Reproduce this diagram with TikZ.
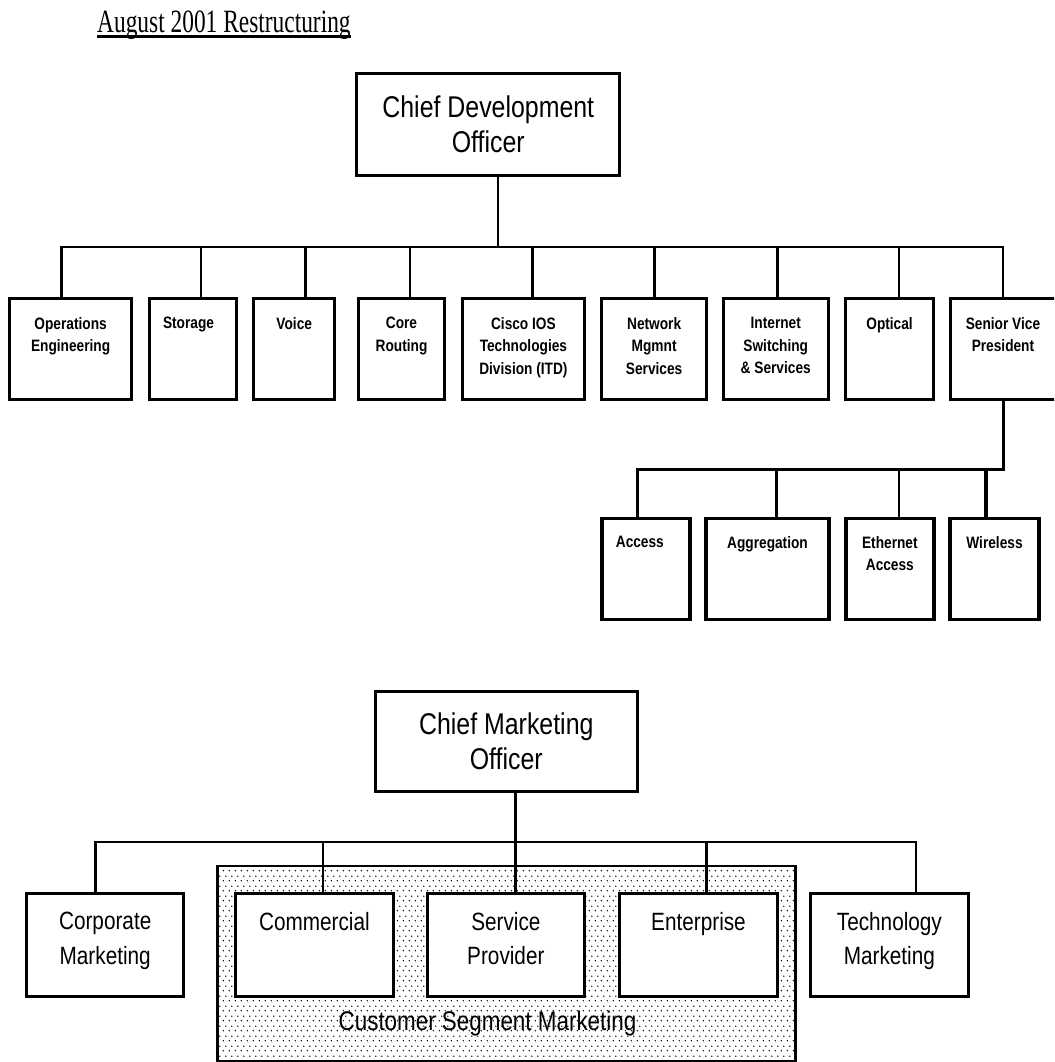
\documentclass[tikz,border=0pt]{standalone}
\usepackage{fontspec}
\setmainfont{Liberation Sans}
\newfontfamily\arialn[FakeStretch=0.83]{Liberation Sans}
\newfontfamily\timesn[FakeStretch=0.72]{Liberation Serif}
\usetikzlibrary{patterns.meta}
\tikzdeclarepattern{
  name=stipple,
  type=uncolored,
  bottom left={(0pt,0pt)},
  top right={(6pt,10pt)},
  tile size={(6pt,10pt)},
  code={
    \fill (1.5pt,2.5pt) circle (0.85pt);
    \fill (4.5pt,7.5pt) circle (0.85pt);
  }
}
\newcommand\obox[6]{%
  \node[box,#6,minimum width={#4-#2},minimum height={#5-#3}] (#1) at ({(#2+#4)/2},{(#3+#5)/2}) {};}
\newcommand\otext[5]{%
  \node[#4] (#1) at ([yshift=-#3pt]#2.north) {#5};}
\begin{document}
\begin{tikzpicture}[x=1pt,y=-1pt,
  box/.style={draw,line width=3pt,fill=white,inner sep=0pt,outer sep=0pt},
  subbox/.style={line width=3.6pt},
  conn/.style={line width=2.6pt},
  small/.style={font=\arialn\bfseries\fontsize{16.5}{22.5}\selectfont,align=center,inner sep=0pt,anchor=north},
  big/.style={font=\arialn\fontsize{30}{35.5}\selectfont,align=center},
  mid/.style={font=\arialn\fontsize{25}{34.4}\selectfont,align=center,inner sep=0pt,anchor=north}]
\useasboundingbox (0,0) rectangle (1054,1062);
\clip (0,0) rectangle (1054,1062);

% title
\node[font=\timesn\fontsize{32.5}{38}\selectfont,anchor=base west,inner sep=0pt] (title) at (97,33) {August 2001 Restructuring};
\draw[line width=2.6pt] ([yshift=-3.6pt]title.base west) -- ([yshift=-3.6pt]title.base east);

% ---------- development ----------
\node[box,big,minimum width=263.3,minimum height=101] (cdo) at (488.3,124.5) {Chief Development\\Officer};

\obox{ops}{9.3}{298}{131.9}{399.5}{}
\obox{storage}{149.1}{298}{236.9}{399.5}{}
\obox{voice}{253.8}{298}{334.7}{399.5}{}
\obox{core}{358.1}{298}{444.9}{399.5}{}
\obox{cisco}{462.1}{298}{584.7}{399.5}{}
\obox{network}{601.7}{298}{706.6}{399.5}{}
\obox{internet}{723.3}{298}{828.2}{399.5}{}
\obox{optical}{845.3}{298}{933.8}{399.5}{}
\obox{svp}{950.9}{298}{1056}{399.5}{}

\otext{opsT}{ops}{19}{small}{Operations\\Engineering}
\otext{storageT}{storage}{19}{small,xshift=-4.5pt}{Storage}
\otext{voiceT}{voice}{19}{small}{Voice}
\otext{coreT}{core}{19}{small}{Core\\Routing}
\otext{ciscoT}{cisco}{19}{small}{Cisco IOS\\Technologies\\Division (ITD)}
\otext{networkT}{network}{19}{small}{Network\\Mgmnt\\Services}
\otext{internetT}{internet}{19}{small}{Internet\\Switching\\\& Services}
\otext{opticalT}{optical}{19}{small}{Optical}
\otext{svpT}{svp}{19}{small,xshift=-0.5pt}{Senior Vice\\President}

\coordinate (busA) at (498,247);
\draw[conn] (cdo.south -| busA) -- (busA);
\draw[conn] ([xshift=-9.3pt]ops.north) |- (busA) -| ([xshift=-0.45pt]svp.north);
\foreach \n/\dx in {storage/8.1,voice/11.15,core/8.6,cisco/9.2,network/0.35,internet/1.45,optical/9.55}
  \draw[conn] ([xshift=\dx pt]\n.north) -- ([xshift=\dx pt]\n.north |- busA);

% sub row
\obox{access}{601.7}{518.3}{690}{619.3}{subbox}
\obox{aggregation}{706}{518.3}{829}{619.3}{subbox}
\obox{ethernet}{845.7}{518.3}{934}{619.3}{subbox}
\obox{wireless}{950}{518.3}{1039}{619.3}{subbox}

\otext{accessT}{access}{17.7}{small,xshift=-6pt}{Access}
\otext{aggregationT}{aggregation}{17.7}{small}{Aggregation}
\otext{ethernetT}{ethernet}{17.7}{small}{Ethernet\\Access}
\otext{wirelessT}{wireless}{17.7}{small}{Wireless}

\coordinate (busB) at (1004,469.3);
\draw[conn] (svp.south) -- (svp.south |- busB) -| ([xshift=-8.55pt]access.north);
\draw[conn] ([xshift=9.2pt]aggregation.north) -- ([xshift=9.2pt]aggregation.north |- busB);
\draw[conn] ([xshift=9.15pt]ethernet.north) -- ([xshift=9.15pt]ethernet.north |- busB);
\draw[conn,line width=3.6pt] ([xshift=-8.8pt]wireless.north) -- ([xshift=-8.8pt]wireless.north |- busB);

% ---------- marketing ----------
\node[box,big,minimum width=262,minimum height=99.3] (cmo) at (506.3,741.35) {Chief Marketing\\Officer};

\node[draw,line width=2.6pt,pattern=stipple,pattern color=black,inner sep=0pt,
  minimum width=577.9,minimum height=195] (csm) at (506.55,963.6) {};

\obox{corp}{26.5}{893.6}{183.9}{996.3}{}
\obox{commercial}{235.2}{893.6}{393.6}{996.3}{}
\obox{sp}{427}{893.6}{584.7}{996.3}{}
\obox{enterprise}{619.8}{893.6}{777.2}{996.3}{}
\obox{tech}{810.5}{893.6}{968.2}{996.3}{}

\otext{corpT}{corp}{18.6}{mid}{Corporate\\Marketing}
\otext{commercialT}{commercial}{18.6}{mid}{Commercial}
\otext{spT}{sp}{18.6}{mid}{Service\\Provider}
\otext{enterpriseT}{enterprise}{18.6}{mid}{Enterprise}
\otext{techT}{tech}{18.6}{mid}{Technology\\Marketing}

\node[font=\arialn\fontsize{27}{32}\selectfont,anchor=base,inner sep=0pt] (csmT) at (487.5,1030) {Customer Segment Marketing};

\coordinate (busC) at (515.5,842);
\draw[conn] (cmo.south -| busC) -- (busC);
\draw[conn] ([xshift=-9.5pt]corp.north) |- (busC) -| ([xshift=26.75pt]tech.north);
\foreach \n/\dx in {commercial/8.6,sp/9.65,enterprise/7.8}
  \draw[conn] ([xshift=\dx pt]\n.north) -- ([xshift=\dx pt]\n.north |- busC);
\end{tikzpicture}
\end{document}
